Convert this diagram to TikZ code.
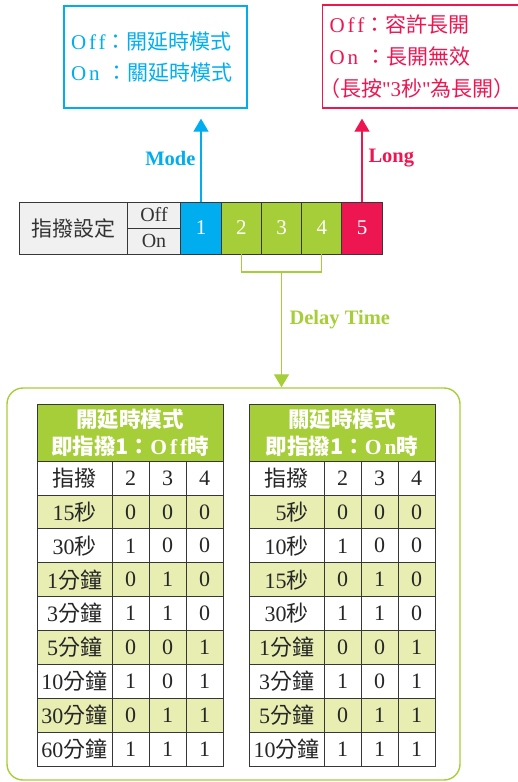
\documentclass[tikz,border=0pt]{standalone}
\usepackage{fontspec}
\setmainfont{Liberation Serif}
\newfontfamily\zhfont{Noto Sans CJK TC}
\newfontfamily\zhprop[RawFeature=+palt]{Noto Sans CJK TC}
\newfontfamily\halffont[LetterSpace=14]{Liberation Serif}
\newcommand\zh[1]{{\zhfont #1}}
\newcommand\hw[1]{{\halffont #1}}
\usetikzlibrary{arrows.meta}
\definecolor{modeblue}{RGB}{0,174,239}
\definecolor{longred}{RGB}{237,22,81}
\definecolor{delaygreen}{RGB}{166,206,57}
\definecolor{rowgreen}{RGB}{232,237,178}
\definecolor{setgray}{RGB}{240,240,240}
\definecolor{edgegray}{RGB}{55,55,55}

\begin{document}
\begin{tikzpicture}[x=1pt, y=-1pt,
    swcell/.style={draw=edgegray, line width=0.9pt, minimum height=52pt, minimum width=40.25pt, inner sep=0pt, text=white, font=\fontsize{21}{21}\selectfont},
    tcell/.style={draw=edgegray, line width=0.7pt, minimum height=33.9pt, minimum width=37pt, inner sep=0pt, text=black!85, font=\fontsize{22}{22}\selectfont},
    thead/.style={draw=edgegray, line width=0.7pt, fill=delaygreen, minimum width=186pt, minimum height=57pt, inner sep=0pt, align=center, text=white, font=\fontsize{21.5}{27}\selectfont\bfseries},
    arrowlabel/.style={font=\fontsize{20.5}{20.5}\selectfont\bfseries},
    bigtip/.style={-{Triangle[width=15pt,length=13pt]}}]
    \useasboundingbox (0,0) rectangle (517,782);

    % notes on top
    \node[draw=modeblue, line width=1.3pt, text=modeblue, text width=169pt, inner xsep=7pt, align=left, minimum height=102pt, font=\fontsize{21}{31}\selectfont] (modebox) at (155.5,57) {\hw{Off}\zh{：開延時模式}\\\hw{On\ }\zh{：關延時模式}};
    \node[draw=longred, line width=1.3pt, text=longred, text width=183pt, inner xsep=7pt, align=left, minimum height=103pt, anchor=west, font=\fontsize{21}{32}\selectfont] (longbox) at (322,56.5) {\hw{Off}\zh{：容許長開}\\\hw{On\ }\zh{：長開無效}\\{\zhprop （長按}\textquotedbl3\zh{秒}\textquotedbl{\zhprop 為長開）}};

    % switch row
    \node[swcell, fill=setgray, minimum width=108pt, text=black!80] (setlabel) at (73,228) {\zh{指撥設定}};
    \node[swcell, fill=setgray, minimum width=54pt, minimum height=26pt, text=black!80, font=\fontsize{20}{20}\selectfont] (swoff) at (154,215) {Off};
    \node[swcell, fill=setgray, minimum width=54pt, minimum height=26pt, text=black!80, font=\fontsize{20}{20}\selectfont] (swon) at (154,241) {On};
    \node[swcell, fill=modeblue] (sw1) at (201,228) {1};
    \node[swcell, fill=delaygreen] (sw2) at (241.25,228) {2};
    \node[swcell, fill=delaygreen] (sw3) at (281.5,228) {3};
    \node[swcell, fill=delaygreen] (sw4) at (321.75,228) {4};
    \node[swcell, fill=longred] (sw5) at (362,228) {5};

    \draw[modeblue, line width=1.3pt, bigtip, shorten >=10pt] (sw1.north) -- (sw1.north |- modebox.south);
    \draw[longred, line width=1.3pt, bigtip, shorten >=10pt] (sw5.north) -- (sw5.north |- longbox.south);
    \node[arrowlabel, text=modeblue, anchor=east] (modelabel) at (199,158) {Mode};
    \node[arrowlabel, text=longred, anchor=west] (longlabel) at (365,158) {Long};

    % delay time
    \node[draw=delaygreen, line width=1.4pt, rounded corners=16pt, minimum width=453pt, minimum height=392pt] (tbox) at (233.5,584) {};
    \coordinate (bl) at (241.25,272);
    \coordinate (br) at (321.75,272);
    \coordinate (bmid) at (281.5,272);
    \draw[delaygreen, line width=1.3pt] (sw2.south) -- (bl) -- (br) -- (sw4.south);
    \draw[delaygreen, line width=1.3pt, bigtip] (bmid) -- (bmid |- tbox.north);
    \node[arrowlabel, text=delaygreen, anchor=west] (delaylabel) at (286,320) {Delay Time};

    % off table
    \node[thead] (lhead) at (130,432.5) {\zh{開延時模式}\\\zh{即指撥1：}\hw{Off}\zh{時}};
    \foreach \lab/\a/\b/\c [count=\r from 0] in {\zh{指撥}/2/3/4, 15\zh{秒}/0/0/0, 30\zh{秒}/1/0/0, 1\zh{分鐘}/0/1/0, 3\zh{分鐘}/1/1/0, 5\zh{分鐘}/0/0/1, 10\zh{分鐘}/1/0/1, 30\zh{分鐘}/0/1/1, 60\zh{分鐘}/1/1/1} {
        \pgfmathsetmacro\rowy{461+33.9*(\r+0.5)}
        \ifodd\r \def\rowfill{rowgreen}\else \def\rowfill{white}\fi
        \node[tcell, fill=\rowfill, minimum width=75pt] (L\r-0) at (74.5,\rowy) {\lab};
        \node[tcell, fill=\rowfill] (L\r-1) at (130.5,\rowy) {\a};
        \node[tcell, fill=\rowfill] (L\r-2) at (167.5,\rowy) {\b};
        \node[tcell, fill=\rowfill] (L\r-3) at (204.5,\rowy) {\c};
    }

    % on table
    \node[thead] (rhead) at (342,432.5) {\zh{關延時模式}\\\zh{即指撥1：}\hw{On}\zh{時}};
    \foreach \lab/\a/\b/\c [count=\r from 0] in {\zh{指撥}/2/3/4, \phantom{1}5\zh{秒}/0/0/0, 10\zh{秒}/1/0/0, 15\zh{秒}/0/1/0, 30\zh{秒}/1/1/0, 1\zh{分鐘}/0/0/1, 3\zh{分鐘}/1/0/1, 5\zh{分鐘}/0/1/1, 10\zh{分鐘}/1/1/1} {
        \pgfmathsetmacro\rowy{461+33.9*(\r+0.5)}
        \ifodd\r \def\rowfill{rowgreen}\else \def\rowfill{white}\fi
        \node[tcell, fill=\rowfill, minimum width=75pt] (R\r-0) at (286.5,\rowy) {\lab};
        \node[tcell, fill=\rowfill] (R\r-1) at (342.5,\rowy) {\a};
        \node[tcell, fill=\rowfill] (R\r-2) at (379.5,\rowy) {\b};
        \node[tcell, fill=\rowfill] (R\r-3) at (416.5,\rowy) {\c};
    }
\end{tikzpicture}
\end{document}
